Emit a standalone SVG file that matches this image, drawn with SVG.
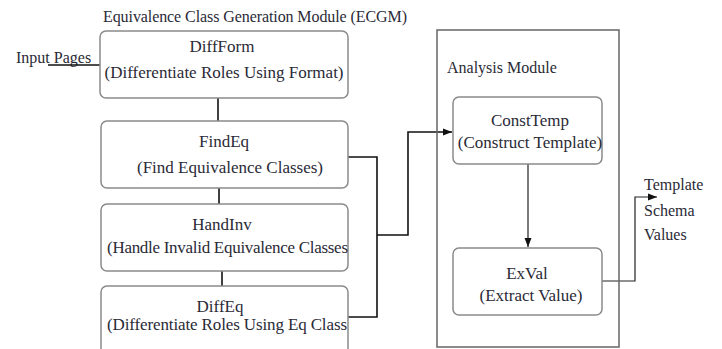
<svg xmlns="http://www.w3.org/2000/svg" width="722" height="349" viewBox="0 0 722 349" font-family="'Liberation Serif', 'Times New Roman', Times, 'DejaVu Serif', serif">
<style>
text{font-family:'Liberation Serif','Times New Roman',Times,'DejaVu Serif',serif;fill:#2a2a36}
.t{font-size:17px}
.s{font-size:16px}
.m{text-anchor:middle}
.box{fill:#fff;stroke:#8a8a8a;stroke-width:1.5}
.frame{fill:none;stroke:#666;stroke-width:1.5}
.c{fill:none;stroke:#111;stroke-width:1.6}
.a{fill:none;stroke:#222;stroke-width:1.2}
</style>
<defs>
<marker id="ah" markerWidth="10" markerHeight="8" refX="9" refY="4" orient="auto" markerUnits="userSpaceOnUse">
<path d="M0,0.5 L9,4 L0,7.5 Z" fill="#111"/>
</marker>
</defs>
<rect width="722" height="349" fill="#fff"/>
<text class="s" x="103" y="22" textLength="304">Equivalence Class Generation Module (ECGM)</text>
<text class="s" x="16" y="63">Input Pages</text>
<g id="connectors">
<path class="c" d="M48 65 H101"/>
<path class="c" d="M218 98 V121"/>
<path class="c" d="M219 188 V204"/>
<path class="c" d="M222 271 V286"/>
<path class="c" d="M348 157 H377 V317 H348"/>
<path class="c" d="M377 235 H408 V132 H452" marker-end="url(#ah)"/>
<path class="a" d="M528 164 V247" marker-end="url(#ah)"/>
<path class="a" d="M602 281 H635 V197 H657" marker-end="url(#ah)"/>
</g>
<g id="ecgm-diffform">
<rect class="box" x="100" y="31" width="248" height="67" rx="6"/>
<text class="t m" x="222" y="52">DiffForm</text>
<text class="t m" x="224" y="78">(Differentiate Roles Using Format)</text>
</g>
<g id="ecgm-findeq">
<rect class="box" x="101" y="121" width="247" height="67" rx="6"/>
<text class="t m" x="224" y="147">FindEq</text>
<text class="t m" x="230" y="173">(Find Equivalence Classes)</text>
</g>
<g id="ecgm-handinv">
<rect class="box" x="101" y="204" width="247" height="67" rx="6"/>
<text class="t m" x="222" y="230">HandInv</text>
<text class="t" x="107" y="253" textLength="241">(Handle Invalid Equivalence Classes</text>
</g>
<g id="ecgm-diffeq">
<rect class="box" x="101" y="286" width="247" height="80" rx="6"/>
<text class="t m" x="220" y="312">DiffEq</text>
<text class="t" x="107" y="330" textLength="240">(Differentiate Roles Using Eq Class</text>
</g>
<g id="analysis-module">
<rect class="frame" x="437" y="30" width="182" height="317"/>
<text class="s" x="447" y="73">Analysis Module</text>
</g>
<g id="consttemp">
<rect class="box" x="453" y="97" width="149" height="67" rx="6"/>
<text class="t m" x="530" y="126">ConstTemp</text>
<text class="t m" x="530" y="148">(Construct Template)</text>
</g>
<g id="exval">
<rect class="box" x="453" y="248" width="149" height="67" rx="6"/>
<text class="t m" x="527" y="279">ExVal</text>
<text class="t m" x="531" y="301">(Extract Value)</text>
</g>
<g id="output">
<text class="s" x="644" y="190">Template</text>
<text class="s" x="644" y="216">Schema</text>
<text class="s" x="644" y="240">Values</text>
</g>
</svg>
